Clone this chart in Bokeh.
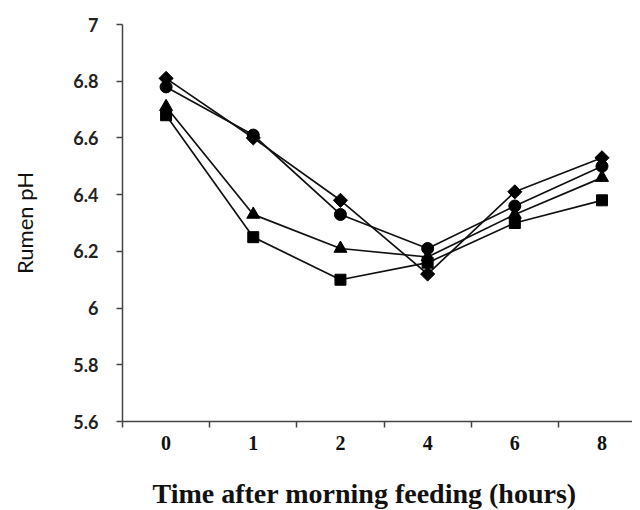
import math
from bokeh.plotting import figure
from bokeh.models import FixedTicker, Range1d, Title
from bokeh.embed import file_html
from bokeh.resources import INLINE

hours = ["0", "1", "2", "4", "6", "8"]
diamond_vals = [6.81, 6.60, 6.38, 6.12, 6.41, 6.53]
circle_vals = [6.78, 6.61, 6.33, 6.21, 6.36, 6.50]
triangle_vals = [6.71, 6.33, 6.21, 6.18, 6.33, 6.46]
square_vals = [6.68, 6.25, 6.10, 6.16, 6.30, 6.38]
y_ticks = [5.6, 5.8, 6.0, 6.2, 6.4, 6.6, 6.8, 7.0]
y_labels = ["5.6", "5.8", "6", "6.2", "6.4", "6.6", "6.8", "7"]
x_title = "Time after morning feeding (hours)"

xs = [i + 0.5 for i in range(len(hours))]

p = figure(width=632, height=510, output_backend="svg", toolbar_location=None,
           x_range=Range1d(0, 5.85), y_range=Range1d(5.6, 7.0),
           min_border_left=122, min_border_right=0, min_border_top=24, min_border_bottom=89)
p.outline_line_color = None
p.xgrid.visible = False
p.ygrid.visible = False
p.background_fill_color = "white"

series = [
    (diamond_vals, "square", 10, math.pi / 4),
    (circle_vals, "circle", 12, 0),
    (triangle_vals, "triangle", 13, 0),
    (square_vals, "square", 11, 0),
]
for vals, marker, size, ang in series:
    p.line(xs, vals, line_color="#111111", line_width=1.7)
    p.scatter(xs, vals, marker=marker, size=size, angle=ang,
              fill_color="black", line_color="black")

# x axis
p.xaxis.ticker = FixedTicker(ticks=xs, minor_ticks=list(range(len(hours))))
p.xaxis.major_label_overrides = {x: h for x, h in zip(xs, hours)}
p.xaxis.major_tick_line_color = None
p.xaxis.minor_tick_in = 0
p.xaxis.minor_tick_out = 6
p.xaxis.minor_tick_line_color = "#444444"
p.xaxis.minor_tick_line_width = 1.5
p.xaxis.axis_line_color = "#444444"
p.xaxis.axis_line_width = 1.5
p.xaxis.major_label_standoff = 8
p.xaxis.major_label_text_font = "Liberation Serif"
p.xaxis.major_label_text_font_style = "bold"
p.xaxis.major_label_text_font_size = "20px"
p.xaxis.major_label_text_color = "#111111"
# blank spacer label so the title below sits lower
p.xaxis.axis_label = " "
p.xaxis.axis_label_text_font_size = "10px"
p.xaxis.axis_label_standoff = 9

xtitle = Title(text=x_title, align="left", offset=30,
               text_font="Liberation Serif", text_font_style="bold",
               text_font_size="28px", text_color="#111111", standoff=0)
p.add_layout(xtitle, "below")

# y axis
p.yaxis.ticker = FixedTicker(ticks=y_ticks)
p.yaxis.major_label_overrides = dict(zip(y_ticks, y_labels))
p.yaxis.minor_tick_line_color = None
p.yaxis.major_tick_in = 0
p.yaxis.major_tick_out = 6
p.yaxis.major_tick_line_color = "#444444"
p.yaxis.major_tick_line_width = 1.5
p.yaxis.axis_line_color = "#444444"
p.yaxis.axis_line_width = 1.5
p.yaxis.major_label_standoff = 18
p.yaxis.major_label_text_font = "Lato"
p.yaxis.major_label_text_font_style = "bold"
p.yaxis.major_label_text_font_size = "18px"
p.yaxis.major_label_text_color = "#222222"
p.yaxis.axis_label = "Rumen pH"
p.yaxis.axis_label_text_font = "Lato"
p.yaxis.axis_label_text_font_style = "normal"
p.yaxis.axis_label_text_font_size = "22px"
p.yaxis.axis_label_text_color = "#111111"
p.yaxis.axis_label_standoff = 32

open("out.html", "w").write(file_html(p, INLINE))
